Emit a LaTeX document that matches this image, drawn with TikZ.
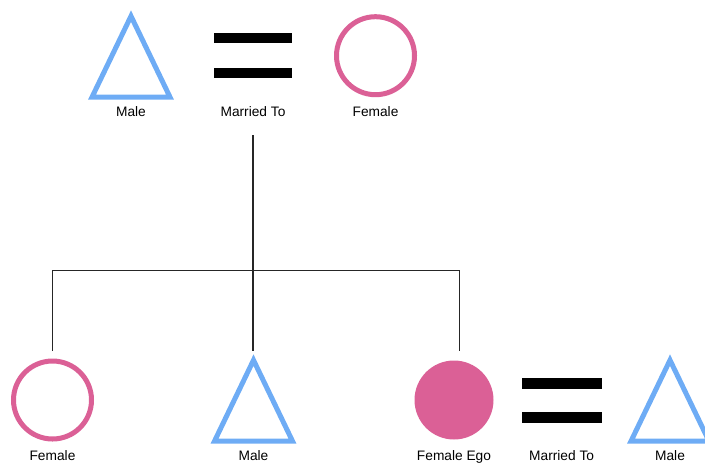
\documentclass[tikz,border=0pt]{standalone}
\usepackage{fontspec}
\setmainfont{Liberation Sans}
\usetikzlibrary{shapes.geometric,calc}

\definecolor{maleblue}{RGB}{110,172,245}
\definecolor{femalepink}{RGB}{219,96,150}

\begin{document}
\begin{tikzpicture}[
  x=0.75pt, y=-0.75pt,
  male/.style={isosceles triangle, isosceles triangle stretches, shape border rotate=90, draw=maleblue, line width=3.75pt, minimum width=58.5pt, minimum height=60.75pt, inner sep=0pt, anchor=apex},
  female/.style={circle, draw=femalepink, line width=3.75pt, minimum size=58.5pt, inner sep=0pt},
  ego/.style={circle, fill=femalepink, minimum size=59.25pt, inner sep=0pt},
  bar/.style={rectangle, fill=black, minimum width=58.5pt, minimum height=7.5pt, inner sep=0pt},
  kinlabel/.style={font=\fontsize{10.3}{12}\selectfont, anchor=base, inner sep=0pt},
  link/.style={line width=1.1pt, draw=black!85}
]
\useasboundingbox (0,0) rectangle (705,464);

\node[male] (dad) at (131,9.6) {};
\node[kinlabel] (dadl) at (131,116) {Male};
\node[bar] (eq1a) at (253,38) {};
\node[bar] (eq1b) at (253,73) {};
\node[kinlabel] (mar1) at (253,116) {Married To};
\node[female] (mom) at (375.5,55.7) {};
\node[kinlabel] (moml) at (375.5,116) {Female};

\node[female] (sis) at (52.5,400) {};
\node[kinlabel] (sisl) at (52.5,460.5) {Female};
\node[male] (bro) at (253.5,353.6) {};
\node[kinlabel] (brol) at (253.5,460.5) {Male};
\node[ego] (ego) at (454,400) {};
\node[kinlabel] (egol) at (454,460.5) {Female Ego};
\node[bar, minimum width=60pt, minimum height=8.25pt] (eq2a) at (561.6,383.5) {};
\node[bar, minimum width=60pt, minimum height=8.25pt] (eq2b) at (561.6,417.5) {};
\node[kinlabel] (mar2) at (561.6,460.5) {Married To};
\node[male] (hub) at (670,353.6) {};
\node[kinlabel] (hubl) at (670,460.5) {Male};

\coordinate (fork) at (253,270.5);
\coordinate (egodrop) at (459.5,351);
\draw[link, shorten <=14pt] (mar1.south) -- (mar1.south |- egodrop);
\draw[link] (sis |- egodrop) -- (sis |- fork) -- (egodrop |- fork) -- (egodrop);
\end{tikzpicture}
\end{document}
